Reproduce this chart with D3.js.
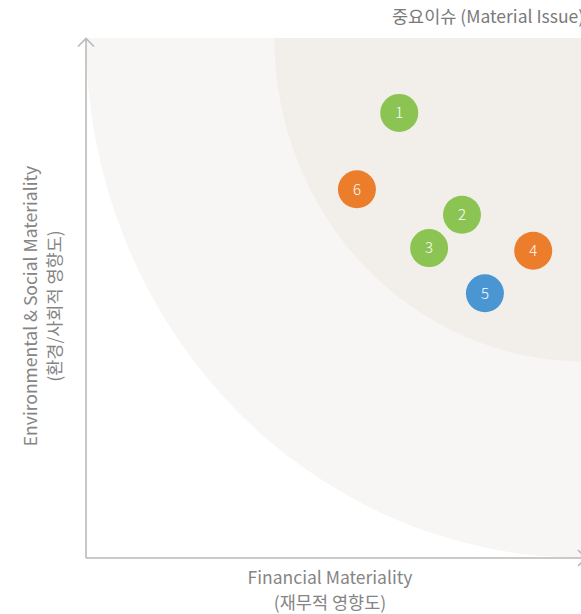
<!DOCTYPE html>
<html>
<head>
<meta charset="utf-8">
<script src="https://cdn.jsdelivr.net/npm/d3@7"></script>
<style>
  html, body { margin: 0; padding: 0; background: #ffffff; overflow: hidden; }
  svg { display: block; font-family: "Noto Sans CJK KR", "Noto Sans", sans-serif; }
</style>
</head>
<body>
<svg id="chart" width="581" height="614"></svg>
<script>
// Materiality issues: financial (x) vs environmental & social (y), 0–100 scale
const issueIds = ["1", "2", "3", "4", "5", "6"];
const financial = [62.9, 75.5, 68.9, 89.8, 80.1, 54.4];
const envSocial = [85.6, 66.0, 59.6, 59.1, 50.9, 70.9];
const issueColors = ["#8cc454", "#8cc454", "#8cc454", "#eb7d2b", "#4a96d3", "#eb7d2b"];

// Concentric zones around the top-right corner (100, 100)
const zoneRadii = [100, 62.2];
const zoneColors = ["#f7f6f4", "#f2efeb"];

const zoneTitle = "중요이슈 (Material Issue)";
const xTitle = ["Financial Materiality", "(재무적 영향도)"];
const yTitle = ["Environmental & Social Materiality", "(환경/사회적 영향도)"];

const svg = d3.select("#chart");
const plot = { left: 86, right: 584, top: 38, bottom: 558 };

const x = d3.scaleLinear().domain([0, 100]).range([plot.left, plot.right]);
const y = d3.scaleLinear().domain([0, 100]).range([plot.bottom, plot.top]);

svg.append("defs").append("clipPath").attr("id", "plot-clip")
  .append("rect")
  .attr("x", plot.left).attr("y", plot.top)
  .attr("width", 600).attr("height", plot.bottom - plot.top);

// Zones drawn as ellipses so the data-space circles follow both scales
const zones = svg.append("g").attr("clip-path", "url(#plot-clip)");
zoneRadii.forEach((r, i) => {
  zones.append("ellipse")
    .attr("cx", x(100)).attr("cy", y(100))
    .attr("rx", x(r) - x(0))
    .attr("ry", y(0) - y(r))
    .attr("fill", zoneColors[i]);
});

// Axes with open arrowheads
const axisColor = "#b9b9b9";
const axes = svg.append("g").attr("stroke", axisColor).attr("stroke-width", 1.6).attr("fill", "none");
axes.append("line").attr("x1", x(0)).attr("y1", y(0)).attr("x2", x(0)).attr("y2", y(100) + 0.5);
axes.append("path").attr("d", `M${x(0) - 8},${y(100) + 8.5}L${x(0)},${y(100) + 0.5}L${x(0) + 8},${y(100) + 8.5}`);
axes.append("line").attr("x1", x(0)).attr("y1", y(0)).attr("x2", x(100) + 2).attr("y2", y(0));
axes.append("path").attr("d", `M${x(100) - 6},${y(0) - 8}L${x(100) + 2},${y(0)}L${x(100) - 6},${y(0) + 8}`);

// Zone title
svg.append("text")
  .attr("x", 392).attr("y", 23)
  .attr("fill", "#7a7a7a")
  .attr("font-size", 17.5)
  .text(zoneTitle);

// Axis titles
const xt = svg.append("text")
  .attr("text-anchor", "middle")
  .attr("fill", "#858585")
  .attr("font-size", 17.5);
xTitle.forEach((t, i) => {
  xt.append("tspan").attr("x", 330).attr("y", 584 + i * 25).text(t);
});

const yt = svg.append("text")
  .attr("text-anchor", "middle")
  .attr("fill", "#858585")
  .attr("font-size", 17.5)
  .attr("transform", "translate(37,306) rotate(-90)");
yTitle.forEach((t, i) => {
  yt.append("tspan").attr("x", 0).attr("y", i * 24).text(t);
});

// Issue markers
const issues = issueIds.map((id, i) => ({ id, fx: financial[i], es: envSocial[i], color: issueColors[i] }));
const marks = svg.append("g").selectAll("g").data(issues).join("g")
  .attr("transform", d => `translate(${x(d.fx)},${y(d.es)})`);
marks.append("circle").attr("r", 19).attr("fill", d => d.color);
marks.append("text")
  .attr("text-anchor", "middle")
  .attr("dy", "0.36em")
  .attr("fill", "#ffffff")
  .attr("font-size", 15)
  .attr("font-weight", 300)
  .text(d => d.id);
</script>
</body>
</html>
